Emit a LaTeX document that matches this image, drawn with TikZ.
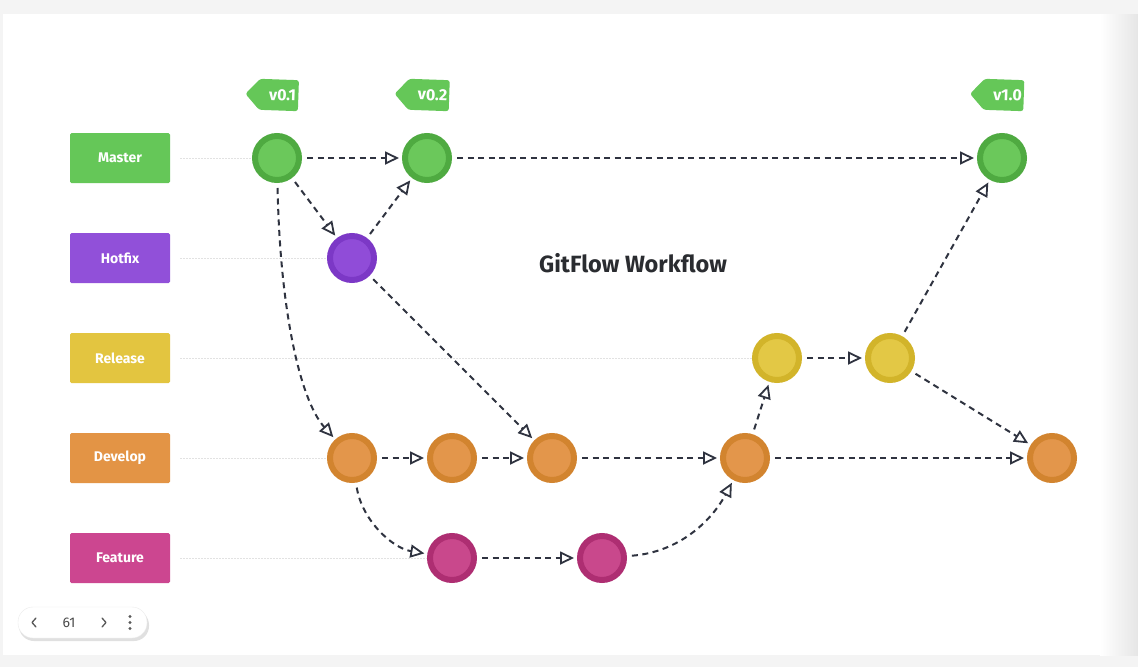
\documentclass[tikz,border=0pt]{standalone}
\usepackage{fontspec}
\setmainfont{Fira Sans}
\usetikzlibrary{arrows.meta,shapes.symbols}
\definecolor{bggrey}{HTML}{F4F4F4}
\definecolor{lineclr}{HTML}{2F3340}
\definecolor{guideclr}{HTML}{E2E2E2}
\definecolor{gbox}{HTML}{65C758}
\definecolor{pbox}{HTML}{9150D9}
\definecolor{ybox}{HTML}{E3C540}
\definecolor{obox}{HTML}{E39445}
\definecolor{kbox}{HTML}{CC4690}
\definecolor{gout}{HTML}{4FAA41}
\definecolor{gin}{HTML}{6BC85B}
\definecolor{pout}{HTML}{7C38C6}
\definecolor{pin}{HTML}{904CD8}
\definecolor{yout}{HTML}{D2B42A}
\definecolor{yin}{HTML}{E3C845}
\definecolor{oout}{HTML}{D2842F}
\definecolor{oin}{HTML}{E3964B}
\definecolor{kout}{HTML}{AE2E72}
\definecolor{kin}{HTML}{C9488C}
\definecolor{titleclr}{HTML}{2A2C30}
\tikzset{
  lbl/.style={rectangle, minimum width=100pt, minimum height=50pt, inner sep=0pt, rounded corners=1.5pt,
    text=white, font=\fontsize{14}{16}\selectfont\bfseries},
  commit/.style={circle, minimum size=44pt, inner sep=0pt, line width=6pt},
  gc/.style={commit, draw=gout, fill=gin},
  pc/.style={commit, draw=pout, fill=pin},
  yc/.style={commit, draw=yout, fill=yin},
  oc/.style={commit, draw=oout, fill=oin},
  kc/.style={commit, draw=kout, fill=kin},
  flow/.style={draw=lineclr, line width=2pt, dash pattern=on 6pt off 4.5pt,
    -{Triangle[open, length=14pt, width=13pt, line width=1.8pt]}, shorten <=5pt, shorten >=3pt},
  guide/.style={draw=guideclr, line width=1pt, dash pattern=on 1.5pt off 1.5pt},
  tag/.style={signal, signal to=west, signal pointer angle=95, fill=gbox, text=white,
    rounded corners=2.5pt, minimum width=53pt, minimum height=31pt, inner sep=2pt,
    font=\fontsize{16}{18}\selectfont\bfseries, rotate=-2},
}
\begin{document}
\begin{tikzpicture}[x=1pt,y=-1pt]
% background
\fill[bggrey] (0,0) rectangle (1138,667);
\fill[white] (3,14) rectangle (1138,655);
\shade[left color=white, right color=black!10] (1100,14) rectangle (1138,655);
\useasboundingbox (0,0) rectangle (1138,667);

% row labels
\node[lbl, fill=gbox] (Lm) at (120,158) {Master};
\node[lbl, fill=pbox] (Lh) at (120,258) {Hotfix};
\node[lbl, fill=ybox] (Lr) at (120,358) {Release};
\node[lbl, fill=obox] (Ld) at (120,458) {Develop};
\node[lbl, fill=kbox] (Lf) at (120,558) {Feature};

% commits
\node[gc] (M1) at (277,158) {};
\node[gc] (M2) at (427,158) {};
\node[gc] (M3) at (1002,158) {};
\node[pc] (H1) at (352,258) {};
\node[yc] (R1) at (777,358) {};
\node[yc] (R2) at (890,358) {};
\node[oc] (D1) at (352,458) {};
\node[oc] (D2) at (452,458) {};
\node[oc] (D3) at (552,458) {};
\node[oc] (D4) at (745,458) {};
\node[oc] (D5) at (1052,458) {};
\node[kc] (F1) at (452,558) {};
\node[kc] (F2) at (602,558) {};

% guides
\draw[guide] ([xshift=10pt]Lm.east) -- (M1.west);
\draw[guide] ([xshift=10pt]Lh.east) -- (H1.west);
\draw[guide] ([xshift=10pt]Lr.east) -- (R1.west);
\draw[guide] ([xshift=10pt]Ld.east) -- (D1.west);
\draw[guide] ([xshift=10pt]Lf.east) -- (F1.west);

% tags
\node[tag] (T1) at (279,95) {\hspace*{7pt}v0.1};
\node[tag] (T2) at (429,95) {\hspace*{7pt}v0.2};
\node[tag] (T3) at (1004,95) {\hspace*{7pt}v1.0};

% title
\node[font=\fontsize{23.5}{27}\selectfont\bfseries, text=titleclr] (title) at (633,263) {GitFlow Workflow};

% flows
\draw[flow] (M1) -- (M2);
\draw[flow] (M2) -- (M3);
\draw[flow] (M1) -- (H1);
\draw[flow] (H1) -- (M2);
\draw[flow] (H1) -- (D3);
\draw[flow] (M1) .. controls (280,310) and (300,400) .. (D1);
\draw[flow] (D1) -- (D2);
\draw[flow] (D2) -- (D3);
\draw[flow] (D3) -- (D4);
\draw[flow] (D4) -- (D5);
\draw[flow] (D1) .. controls (362,520) and (392,548) .. (F1);
\draw[flow] (F1) -- (F2);
\draw[flow] (F2) .. controls (680,552) and (712,520) .. (D4);
\draw[flow] (D4) -- (R1);
\draw[flow] (R1) -- (R2);
\draw[flow] (R2) -- (M3);
\draw[flow] (R2) -- (D5);

% navigation pill
\fill[black!12, rounded corners=15pt] (19,610) rectangle (149,641);
\draw[black!8, fill=white, rounded corners=15pt] (18,607) rectangle (147,638);
\node[font=\fontsize{14}{16}\selectfont, text=black!70] (pg) at (69,622.5) {61};
\draw[black!65, line width=1.3pt, line cap=round, line join=round] (36,618) -- (32,622.5) -- (36,627);
\draw[black!65, line width=1.3pt, line cap=round, line join=round] (102,618) -- (106,622.5) -- (102,627);
\fill[black!65] (130,616.5) circle (1.6pt) (130,622.5) circle (1.6pt) (130,628.5) circle (1.6pt);
\end{tikzpicture}
\end{document}
